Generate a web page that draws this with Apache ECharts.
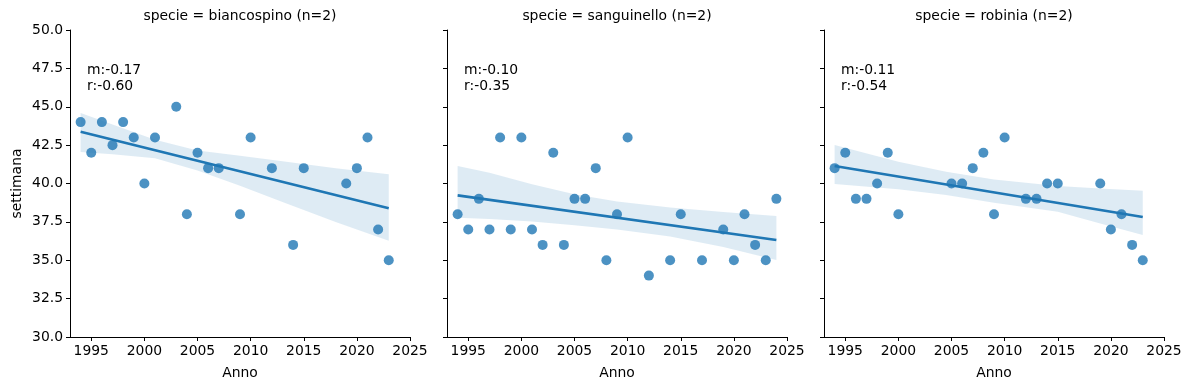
<!DOCTYPE html>
<html><head><meta charset="utf-8">
<script src="https://cdn.jsdelivr.net/npm/echarts@6/dist/echarts.min.js"></script>
<style>html,body{margin:0;padding:0;background:#fff}#c{width:1189px;height:390px}</style>
</head><body><div id="c"></div>
<script>
const panelTitles = ['specie = biancospino (n=2)', 'specie = sanguinello (n=2)', 'specie = robinia (n=2)'];
const statTexts = ['m:-0.17\nr:-0.60', 'm:-0.10\nr:-0.35', 'm:-0.11\nr:-0.54'];
const years1 = [1994,1995,1996,1997,1998,1999,2000,2001,2003,2004,2005,2006,2007,2009,2010,2012,2014,2015,2019,2020,2021,2022,2023];
const weeks1 = [44,42,44,42.5,44,43,40,43,45,38,42,41,41,38,43,41,36,41,40,41,43,37,35];
const years2 = [1994,1995,1996,1997,1998,1999,2000,2001,2002,2003,2004,2005,2006,2007,2008,2009,2010,2012,2014,2015,2017,2019,2020,2021,2022,2023,2024];
const weeks2 = [38,37,39,37,43,37,43,37,36,42,36,39,39,41,35,38,43,34,35,38,35,37,35,38,36,35,39];
const years3 = [1994,1995,1996,1997,1998,1999,2000,2005,2006,2007,2008,2009,2010,2012,2013,2014,2015,2019,2020,2021,2022,2023];
const weeks3 = [41,42,39,39,40,42,38,40,40,41,42,38,43,39,39,40,40,40,37,38,36,35];
// 95% confidence band edges
const bandYears1 = [1994,1997,2001,2005,2009,2013,2018,2023];
const bandLow1   = [42.05,41.9,41.65,40.85,39.85,38.8,37.5,36.27];
const bandHigh1  = [44.6,43.85,42.85,42.15,41.8,41.45,41.0,40.6];
const bandYears2 = [1994,1997,2001,2005,2009,2014,2019,2024];
const bandLow2   = [37.77,37.68,37.52,37.28,37.0,36.55,35.87,35.02];
const bandHigh2  = [41.14,40.7,39.95,39.3,38.82,38.43,38.15,37.88];
const bandYears3 = [1994,2000,2004.5,2009,2015,2019,2023];
const bandLow3   = [39.97,39.62,39.25,38.75,38.16,37.4,36.64];
const bandHigh3  = [42.51,41.42,40.77,40.26,39.84,39.68,39.53];
const xTicks = [1995,2000,2005,2010,2015,2020,2025];

const panels = [[years1,weeks1],[years2,weeks2],[years3,weeks3]];
const bands = [[bandYears1,bandLow1,bandHigh1],[bandYears2,bandLow2,bandHigh2],[bandYears3,bandLow3,bandHigh3]];
const lefts = [70, 447, 824];
const W = 340, TOP = 30, H = 307;
const FONT = 'DejaVu Sans';
const FS = 13.9;
const BLUE = '#1f77b4';

function fitLine(xs, ys){
  const n = xs.length;
  const mx = xs.reduce((a,b)=>a+b,0)/n, my = ys.reduce((a,b)=>a+b,0)/n;
  let sxx=0, sxy=0;
  for(let i=0;i<n;i++){ sxx+=(xs[i]-mx)**2; sxy+=(xs[i]-mx)*(ys[i]-my); }
  const b = sxy/sxx, a = my - b*mx;
  const x0 = Math.min(...xs), x1 = Math.max(...xs);
  return [[x0,a+b*x0],[x1,a+b*x1]];
}

const grid=[], xAxis=[], yAxis=[], series=[], graphic=[];
panels.forEach((p,i)=>{
  grid.push({left:lefts[i], top:TOP, width:W, height:H});
  xAxis.push({type:'value', gridIndex:i, min:1993, max:2025, name:'Anno', nameLocation:'middle', nameGap:29,
    nameTextStyle:{fontFamily:FONT,fontSize:FS,color:'#000'},
    splitLine:{show:false}, axisLine:{lineStyle:{color:'#000',width:1}},
    axisTick:{show:true,length:4,customValues:xTicks,lineStyle:{color:'#000'}},
    axisLabel:{customValues:xTicks,fontFamily:FONT,fontSize:FS,color:'#000',margin:7,formatter:v=>String(v)}});
  yAxis.push({type:'value', gridIndex:i, min:30, max:50, interval:2.5,
    name: i===0?'settimana':'', nameLocation:'middle', nameGap:46,
    nameTextStyle:{fontFamily:FONT,fontSize:FS,color:'#000'},
    splitLine:{show:false}, axisLine:{show:true,lineStyle:{color:'#000',width:1}},
    axisTick:{show:true,length:4,lineStyle:{color:'#000'}},
    axisLabel:{show:i===0,fontFamily:FONT,fontSize:FS,color:'#000',margin:7,formatter:v=>v.toFixed(1)}});
  const bd = bands[i];
  series.push({type:'custom', xAxisIndex:i, yAxisIndex:i, silent:true, z:1,
    data:[[0]],
    renderItem:(params, api)=>{
      const up = bd[0].map((x,k)=>api.coord([x,bd[2][k]]));
      const lo = bd[0].map((x,k)=>api.coord([x,bd[1][k]])).reverse();
      return {type:'polygon', shape:{points:up.concat(lo)}, style:{fill:'rgba(31,119,180,0.15)'}};
    }});
  series.push({type:'scatter', xAxisIndex:i, yAxisIndex:i, z:2, symbolSize:10,
    itemStyle:{color:BLUE, opacity:0.8},
    data:p[0].map((x,k)=>[x,p[1][k]])});
  series.push({type:'line', xAxisIndex:i, yAxisIndex:i, z:3, symbol:'none',
    lineStyle:{color:BLUE,width:2.6}, data:fitLine(p[0],p[1])});
  graphic.push({type:'text', x:lefts[i]+W/2, y:9, style:{text:panelTitles[i], font:FS+'px '+FONT, fill:'#000', align:'center', textAlign:'center', verticalAlign:'top'}});
  graphic.push({type:'text', x:lefts[i]+17, y:62, style:{text:statTexts[i], font:FS+'px '+FONT, fill:'#000', lineHeight:16, verticalAlign:'top'}});
});

const chart = echarts.init(document.getElementById('c'), null, {renderer:'canvas'});
chart.setOption({animation:false, grid, xAxis, yAxis, series, graphic});
</script></body></html>
